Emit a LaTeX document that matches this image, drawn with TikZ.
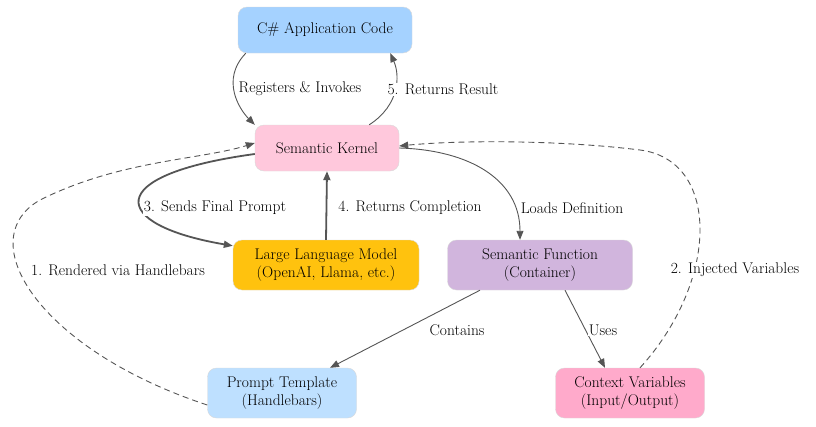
\documentclass[tikz,border=0pt]{standalone}
\usetikzlibrary{arrows.meta}
\definecolor{appblue}{HTML}{A5D2FF}
\definecolor{kernelpink}{HTML}{FFC8DC}
\definecolor{llmorange}{HTML}{FFC20E}
\definecolor{funclilac}{HTML}{D1B5DD}
\definecolor{tmplblue}{HTML}{BEE0FF}
\definecolor{ctxpink}{HTML}{FFAACB}
\definecolor{edgegray}{HTML}{555555}
\tikzset{
  box/.style={draw=black!15, rounded corners=9pt, align=center, minimum height=46pt,
    font=\fontsize{15.5}{18}\selectfont, inner xsep=6pt},
  conn/.style={draw=edgegray, line width=0.9pt, -{Triangle[length=9pt,width=7pt]}},
  thick conn/.style={conn, line width=1.8pt},
  dash conn/.style={conn, dash pattern=on 6pt off 4pt},
  lbl/.style={font=\fontsize{15.5}{18}\selectfont, fill=white, inner sep=1pt}
}
\begin{document}
\begin{tikzpicture}[x=1pt,y=-1pt]
\useasboundingbox (0,0) rectangle (816,426);
\node[box, fill=appblue, minimum width=174pt] (app) at (325,30) {C\# Application Code};
\node[box, fill=kernelpink, minimum width=144pt] (kernel) at (327,148) {Semantic Kernel};
\node[box, fill=llmorange, minimum width=186pt, minimum height=50pt] (llm) at (326,265) {Large Language Model\\(OpenAI, Llama, etc.)};
\node[box, fill=funclilac, minimum width=185pt, minimum height=50pt] (func) at (540,265) {Semantic Function\\(Container)};
\node[box, fill=tmplblue, minimum width=149pt, minimum height=50pt] (tmpl) at (282,393) {Prompt Template\\(Handlebars)};
\node[box, fill=ctxpink, minimum width=149pt, minimum height=50pt] (ctx) at (630,393) {Context Variables\\(Input/Output)};

% kernel calls
\draw[conn] (app.south west) ++(8,0) .. controls (220,80) and (240,110) .. (kernel.north west);
\draw[conn] (kernel.north east) ++(-30,0) .. controls (400,105) and (400,75) .. ([xshift=-22pt]app.south east);
\node[lbl] (l1) at (300,89) {Registers \& Invokes};
\node[lbl] (l5) at (443,89) {5. Returns Result};

% model round trip
\draw[thick conn] (kernel.west) ++(0,6) .. controls (100,175) and (110,225) .. ([yshift=-6pt]llm.north west);
\draw[thick conn] (llm.north) -- (kernel.south);
\node[lbl] (l3) at (215,208) {3. Sends Final Prompt};
\node[lbl] (l4) at (410,208) {4. Returns Completion};

% function
\draw[conn] (kernel.east) .. controls (470,150) and (520,180) .. ([xshift=-20pt]func.north);
\node[lbl] (ld) at (572,208) {Loads Definition};
\draw[conn] ([xshift=-60pt]func.south) -- ([xshift=48pt]tmpl.north);
\draw[conn] ([xshift=25pt]func.south) -- ([xshift=-25pt]ctx.north);
\node[lbl] (lc) at (457,330) {Contains};
\node[lbl] (lu) at (603,330) {Uses};

% dashed back links
\draw[dash conn] ([yshift=-12pt]tmpl.west) .. controls (40,350) and (-30,240) .. (40,200)
  .. controls (120,160) and (200,160) .. ([yshift=5pt]kernel.west);
\draw[dash conn] ([xshift=10pt]ctx.north) .. controls (720,280) and (720,160) .. (640,150)
  .. controls (560,140) and (460,140) .. ([yshift=2pt]kernel.east);
\node[lbl] (lr) at (118,270) {1. Rendered via Handlebars};
\node[lbl] (li) at (735,270) {2. Injected Variables};
\end{tikzpicture}
\end{document}
